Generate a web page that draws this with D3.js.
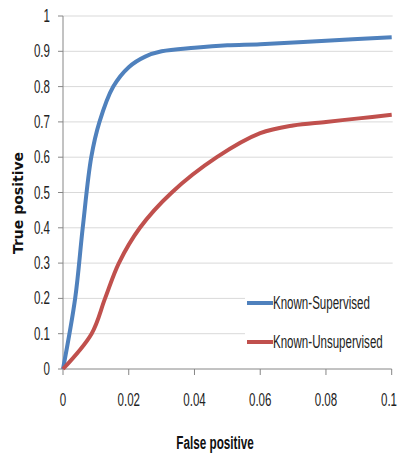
<!DOCTYPE html>
<html>
<head>
<meta charset="utf-8">
<script src="https://cdn.jsdelivr.net/npm/d3@7"></script>
<style>
  body { margin: 0; background: #fff; }
  svg { display: block; }
</style>
</head>
<body>
<div id="chart"></div>
<script>
// values
const seriesNames = ['Known-Supervised', 'Known-Unsupervised']
const supervisedFp = [0, 0.0037, 0.006, 0.0086, 0.0111, 0.0153, 0.02, 0.025, 0.03, 0.04, 0.05, 0.06, 0.08, 0.1]
const supervisedTp = [0, 0.2, 0.4, 0.6, 0.7, 0.8, 0.855, 0.885, 0.9, 0.91, 0.917, 0.92, 0.93, 0.94]
const unsupervisedFp = [0, 0.0087, 0.0128, 0.017, 0.0234, 0.0331, 0.0468, 0.06, 0.07, 0.08, 0.09, 0.1]
const unsupervisedTp = [0, 0.1, 0.2, 0.3, 0.4, 0.5, 0.6, 0.668, 0.69, 0.70, 0.71, 0.72]
const xTicks = [0, 0.02, 0.04, 0.06, 0.08, 0.1]
const xTickLabels = ['0', '0.02', '0.04', '0.06', '0.08', '0.1']
const yTicks = [0, 0.1, 0.2, 0.3, 0.4, 0.5, 0.6, 0.7, 0.8, 0.9, 1]
const yTickLabels = ['0', '0.1', '0.2', '0.3', '0.4', '0.5', '0.6', '0.7', '0.8', '0.9', '1']
const colors = ['#4f81bd', '#c0504d']

const width = 398, height = 455
const squeeze = 0.68
const narrowFont = '"Liberation Sans", Arial, sans-serif'

const svg = d3.select('#chart').append('svg')
    .attr('width', width)
    .attr('height', height)

const x = d3.scaleLinear().domain([0, 0.1]).range([63, 391.7])
const y = d3.scaleLinear().domain([0, 1]).range([369, 16])

// gridlines
svg.append('g')
    .selectAll('line')
    .data(yTicks.slice(1))
    .enter()
    .append('line')
    .attr('x1', x(0))
    .attr('x2', x(0.1) + 1)
    .attr('y1', d => y(d))
    .attr('y2', d => y(d))
    .style('stroke', '#d9d9d9')
    .style('stroke-width', 1)

// axes lines + ticks
const axisColor = '#868686'
svg.append('line')
    .attr('x1', x(0)).attr('x2', x(0))
    .attr('y1', y(0)).attr('y2', y(1))
    .style('stroke', axisColor)
svg.append('line')
    .attr('x1', x(0)).attr('x2', x(0.1))
    .attr('y1', y(0)).attr('y2', y(0))
    .style('stroke', axisColor)
svg.append('g').selectAll('line')
    .data(yTicks)
    .enter()
    .append('line')
    .attr('x1', x(0) - 5).attr('x2', x(0))
    .attr('y1', d => y(d)).attr('y2', d => y(d))
    .style('stroke', axisColor)
svg.append('g').selectAll('line')
    .data(xTicks)
    .enter()
    .append('line')
    .attr('x1', d => x(d)).attr('x2', d => x(d))
    .attr('y1', y(0)).attr('y2', y(0) + 6)
    .style('stroke', axisColor)

// tick labels, narrow like the original
svg.append('g').selectAll('text')
    .data(yTicks)
    .enter()
    .append('text')
    .attr('transform', d => `translate(50,${y(d) + 6}) scale(${squeeze},1.05)`)
    .attr('text-anchor', 'end')
    .style('font-family', narrowFont)
    .style('font-size', '17px')
    .style('fill', '#222')
    .text((d, i) => yTickLabels[i])

svg.append('g').selectAll('text')
    .data(xTicks)
    .enter()
    .append('text')
    .attr('transform', d => `translate(${Math.min(x(d), 389)},${406}) scale(${squeeze},1.05)`)
    .attr('text-anchor', 'middle')
    .style('font-family', narrowFont)
    .style('font-size', '17px')
    .style('fill', '#222')
    .text((d, i) => xTickLabels[i])

// axis titles
svg.append('text')
    .attr('transform', `translate(215,449) scale(0.69,1.05)`)
    .attr('text-anchor', 'middle')
    .style('font-family', narrowFont)
    .style('font-weight', 'bold')
    .style('font-size', '17px')
    .style('fill', '#111')
    .text('False positive')

svg.append('text')
    .attr('transform', 'translate(23,203) rotate(-90)')
    .attr('text-anchor', 'middle')
    .style('font-family', '"DejaVu Sans", sans-serif')
    .style('font-weight', 'bold')
    .style('font-size', '14px')
    .style('fill', '#111')
    .text('True positive')

// curves
const line = d3.line()
    .x(d => x(d[0]))
    .y(d => y(d[1]))
    .curve(d3.curveCatmullRom.alpha(0.5))

const series = [
    d3.zip(supervisedFp, supervisedTp),
    d3.zip(unsupervisedFp, unsupervisedTp)
]

svg.append('g').selectAll('path')
    .data(series)
    .enter()
    .append('path')
    .attr('d', line)
    .style('fill', 'none')
    .style('stroke', (d, i) => colors[i])
    .style('stroke-width', 4)
    .style('stroke-linejoin', 'round')

// legend
const legend = svg.append('g')
legend.append('rect')
    .attr('x', 245).attr('y', 285)
    .attr('width', 150).attr('height', 72)
    .style('fill', '#fff')
const legendY = [303, 342]
const items = legend.selectAll('g.item')
    .data(seriesNames)
    .enter()
    .append('g')
    .classed('item', true)
items.append('line')
    .attr('x1', 247).attr('x2', 273)
    .attr('y1', (d, i) => legendY[i]).attr('y2', (d, i) => legendY[i])
    .style('stroke', (d, i) => colors[i])
    .style('stroke-width', 4)
items.append('text')
    .attr('transform', (d, i) => `translate(273,${legendY[i] + 6}) scale(${squeeze},1.05)`)
    .style('font-family', narrowFont)
    .style('font-size', '17px')
    .style('fill', '#222')
    .text(d => d)
</script>
</body>
</html>
